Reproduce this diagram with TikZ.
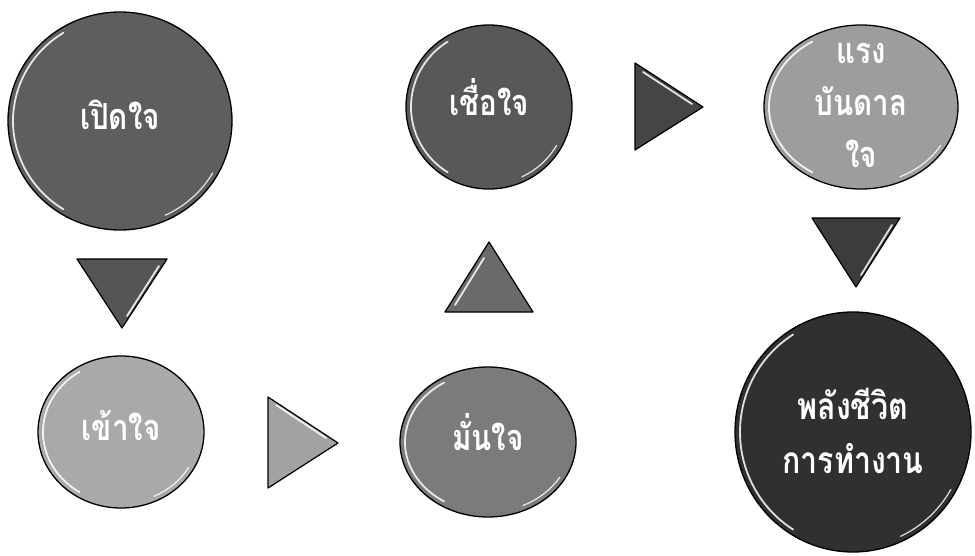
\documentclass[tikz,border=0pt]{standalone}
\usepackage{fontspec}
\newfontfamily\thaifont[Script=Thai, FakeStretch=0.82]{Loma}
\usetikzlibrary{shapes.geometric}
\definecolor{cA}{HTML}{5E5E5E}
\definecolor{cB}{HTML}{A9A9A9}
\definecolor{cC}{HTML}{7B7B7B}
\definecolor{cD}{HTML}{585858}
\definecolor{cE}{HTML}{9D9D9D}
\definecolor{cF}{HTML}{303030}
\definecolor{tA}{HTML}{555555}
\definecolor{tB}{HTML}{A2A2A2}
\definecolor{tC}{HTML}{6A6A6A}
\definecolor{tD}{HTML}{454545}
\definecolor{tE}{HTML}{3C3C3C}
\tikzset{
  ball/.style={ellipse, draw=black, line width=1.3pt, inner sep=0pt,
    text=white, align=center,
    font=\thaifont\bfseries\fontsize{36}{52}\selectfont},
  hl/.style={white, line width=1.8pt, line cap=round, opacity=0.85},
  tri/.style={draw=black, line width=1.2pt, line join=round},
}
\newcommand\balltext[2]{\smash{\raisebox{#1}{\begin{tabular}{@{}c@{}}#2\end{tabular}}}}
\newcommand\glossball[7]{%
  \node[ball, fill=#6, minimum width=#4pt, minimum height=#5pt] (#1) at (#2,-#3) {\balltext{-4.5pt}{#7}};
  \draw[hl] ([shift={(122:#4/2-5 and #5/2-5)}]#1.center)
     arc[start angle=122, end angle=238, x radius=#4/2-5, y radius=#5/2-5];
  \draw[hl, line width=1.2pt] ([shift={(-30:#4/2-5 and #5/2-5)}]#1.center)
     arc[start angle=-30, end angle=-65, x radius=#4/2-5, y radius=#5/2-5];
}
\begin{document}
\begin{tikzpicture}[x=1pt,y=1pt]
\useasboundingbox (0,0) rectangle (975,-556);
\fill[white] (0,0) rectangle (975,-556);

\glossball{open}{120}{121}{224}{218}{cA}{เปิดใจ}
\glossball{understand}{121}{432}{166}{152}{cB}{เข้าใจ}
\glossball{confident}{488}{442}{176}{150}{cC}{มั่นใจ}
\glossball{trust}{489}{107}{166}{164}{cD}{เชื่อใจ}
\glossball{inspire}{861}{107}{194}{164}{cE}{แรง\\บันดาล\\ใจ}
\node[ball, fill=cF, minimum width=236pt, minimum height=240pt,
  font=\thaifont\bfseries\fontsize{37}{54}\selectfont] (power) at (853,-432) {\balltext{-10pt}{พลังชีวิต\\การทำงาน}};
\draw[hl] ([shift={(122:113 and 115)}]power.center)
   arc[start angle=122, end angle=238, x radius=113, y radius=115];
\draw[hl, line width=1.2pt] ([shift={(-30:113 and 115)}]power.center)
   arc[start angle=-30, end angle=-65, x radius=113, y radius=115];

% arrows (triangles)
\coordinate (a1) at (77,-259); \coordinate (a2) at (167,-259); \coordinate (a3) at (122,-328);
\draw[tri, fill=tA] (a1) -- (a2) -- (a3) -- cycle;
\draw[hl] (159,-266) -- (127,-316);

\coordinate (b1) at (268,-397); \coordinate (b2) at (268,-488); \coordinate (b3) at (338,-443);
\draw[tri, fill=tB] (b1) -- (b3) -- (b2) -- cycle;
\draw[hl] (276,-405) -- (326,-438);

\coordinate (c1) at (445,-312); \coordinate (c2) at (533,-312); \coordinate (c3) at (489,-242);
\draw[tri, fill=tC] (c1) -- (c2) -- (c3) -- cycle;
\draw[hl] (455,-305) -- (484,-258);

\coordinate (d1) at (635,-63); \coordinate (d2) at (635,-150); \coordinate (d3) at (703,-107);
\draw[tri, fill=tD] (d1) -- (d3) -- (d2) -- cycle;
\draw[hl] (643,-72) -- (692,-104);

\coordinate (e1) at (812,-218); \coordinate (e2) at (900,-218); \coordinate (e3) at (856,-287);
\draw[tri, fill=tE] (e1) -- (e2) -- (e3) -- cycle;
\draw[hl] (892,-225) -- (861,-275);
\end{tikzpicture}
\end{document}
